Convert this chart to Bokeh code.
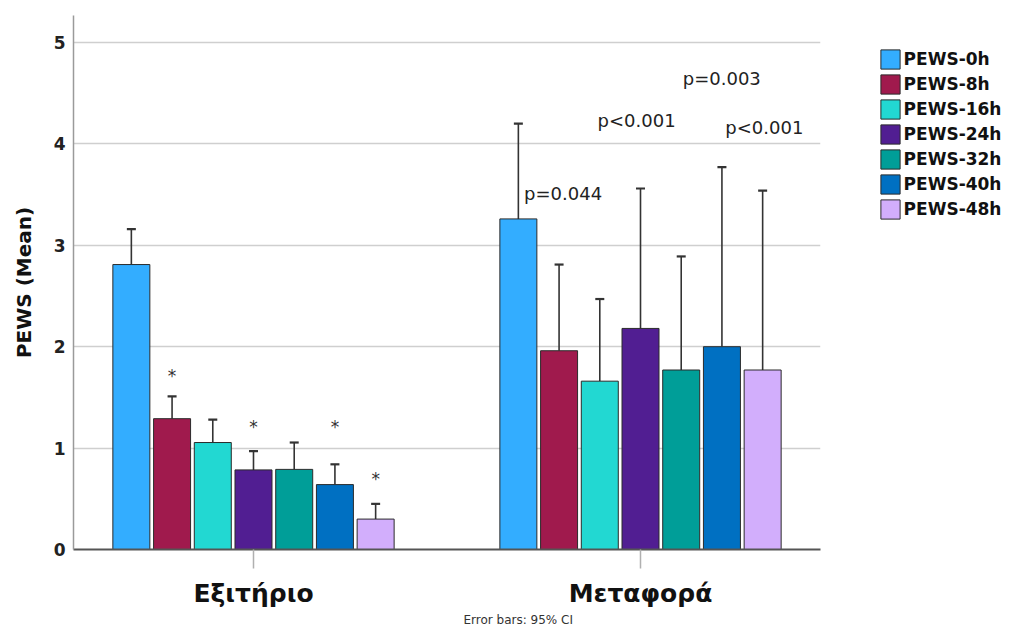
from bokeh.plotting import figure
from bokeh.layouts import row
from bokeh.models import (ColumnDataSource, FixedTicker, Range1d, Legend, LegendItem,
                          Title, Whisker, TeeHead)
from bokeh.core.properties import value
from bokeh.embed import file_html
from bokeh.resources import INLINE

# ---------------- data ----------------
groups = ["Εξιτήριο", "Μεταφορά"]
series = ["PEWS-0h", "PEWS-8h", "PEWS-16h", "PEWS-24h", "PEWS-32h", "PEWS-40h", "PEWS-48h"]
colors = ["#33ADFF", "#A01A4D", "#22D8D2", "#511E92", "#009E98", "#0070C2", "#D2AEFC"]

mean_exit = [2.81, 1.29, 1.055, 0.785, 0.79, 0.64, 0.30]
ci_upper_exit = [3.16, 1.51, 1.28, 0.97, 1.055, 0.84, 0.45]
mean_transfer = [3.26, 1.96, 1.66, 2.18, 1.77, 2.00, 1.77]
ci_upper_transfer = [4.20, 2.81, 2.47, 3.56, 2.89, 3.77, 3.54]

star_series = ["PEWS-8h", "PEWS-24h", "PEWS-40h", "PEWS-48h"]
star_y = [1.75, 1.25, 1.25, 0.73]

p_labels = ["p=0.044", "p<0.001", "p=0.003", "p<0.001"]
p_x = [1.80, 1.99, 2.21, 2.32]
p_y = [3.51, 4.23, 4.645, 4.16]

y_ticks = [0, 1, 2, 3, 4, 5]
note = "Error bars: 95% CI"

# ---------------- layout ----------------
group_pos = [1, 2]
step = 0.1052
bar_w = 0.0956
FIG_H = 627

p = figure(width=860, height=FIG_H, output_backend="svg", toolbar_location=None,
           x_range=Range1d(0.5349, 2.4651), y_range=Range1d(0, 5.266),
           min_border_left=73, min_border_right=40, min_border_top=15, min_border_bottom=78,
           background_fill_color="white", border_fill_color="white")
p.outline_line_color = None

for i, s in enumerate(series):
    src = ColumnDataSource(dict(
        x=[g + (i - 3) * step for g in group_pos],
        top=[mean_exit[i], mean_transfer[i]],
        upper=[ci_upper_exit[i], ci_upper_transfer[i]],
    ))
    p.vbar(x="x", top="top", bottom=0, width=bar_w, source=src,
           fill_color=colors[i], line_color="#2b2b2b", line_width=1)
    w = Whisker(base="x", upper="upper", lower="top", source=src,
                line_color="#333333", line_width=1.6,
                upper_head=TeeHead(size=9, line_width=2.2, line_color="#333333"),
                lower_head=None)
    p.add_layout(w)

# stars
star_x = [group_pos[0] + (series.index(s) - 3) * step for s in star_series]
p.text(x=star_x, y=star_y, text=["*"] * len(star_x), text_align="center",
       text_baseline="middle", y_offset=4, text_font=value("DejaVu Sans"),
       text_font_size="17px", text_color="#333333")

# p-values
p.text(x=p_x, y=p_y, text=p_labels, text_align="center", text_baseline="middle",
       text_font=value("DejaVu Sans"), text_font_size="18px", text_color="#222222")

# axes
p.xgrid.grid_line_color = None
p.ygrid.grid_line_color = "#cfcfcf"
p.ygrid.grid_line_width = 1.5
p.yaxis.ticker = FixedTicker(ticks=y_ticks)
p.yaxis.axis_line_color = "#9a9a9a"
p.yaxis.axis_line_width = 1.5
p.yaxis.major_tick_out = 0
p.yaxis.major_tick_in = 0
p.yaxis.minor_tick_out = 0
p.yaxis.minor_tick_in = 0
p.yaxis.major_label_standoff = 8
p.yaxis.major_label_text_font = "DejaVu Sans"
p.yaxis.major_label_text_font_style = "bold"
p.yaxis.major_label_text_font_size = "17px"
p.yaxis.major_label_text_color = "#222222"
p.yaxis.axis_label = "PEWS (Mean)"
p.yaxis.axis_label_text_font = "DejaVu Sans"
p.yaxis.axis_label_text_font_style = "bold"
p.yaxis.axis_label_text_font_size = "20px"
p.yaxis.axis_label_text_color = "#111111"
p.yaxis.axis_label_standoff = 15

p.xaxis.ticker = FixedTicker(ticks=group_pos)
p.xaxis.major_label_overrides = {g: lab for g, lab in zip(group_pos, groups)}
p.xaxis.axis_line_color = "#555555"
p.xaxis.axis_line_width = 2
p.xaxis.major_tick_out = 19
p.xaxis.major_tick_in = 0
p.xaxis.major_tick_line_color = "#b0b0b0"
p.xaxis.major_tick_line_width = 1.5
p.xaxis.minor_tick_out = 0
p.xaxis.minor_tick_in = 0
p.xaxis.major_label_standoff = 10
p.xaxis.major_label_text_font = "DejaVu Sans"
p.xaxis.major_label_text_font_style = "bold"
p.xaxis.major_label_text_font_size = "25px"
p.xaxis.major_label_text_color = "#111111"

title = Title(text=note, align="left", offset=390, text_font="DejaVu Sans",
              text_font_size="12px", text_font_style="normal", text_color="#333333",
              standoff=0)
p.add_layout(title, "below")

# ---------------- legend panel ----------------
q = figure(width=142, height=FIG_H, output_backend="svg", toolbar_location=None,
           x_range=Range1d(0, 1), y_range=Range1d(0, 1),
           x_axis_location=None, y_axis_location=None,
           min_border_left=0, min_border_right=0, min_border_top=0, min_border_bottom=0,
           background_fill_color="white", border_fill_color="white")
q.outline_line_color = None
q.xgrid.grid_line_color = None
q.ygrid.grid_line_color = None

items = []
for i, s in enumerate(series):
    r = q.vbar(x=[float("nan")], top=[float("nan")], bottom=[float("nan")], width=0.1,
               fill_color=colors[i], line_color="#2b2b2b", line_width=1)
    items.append(LegendItem(label=s, renderers=[r]))

legend = Legend(items=items, location=(17.6, 327.9), orientation="vertical",
                glyph_width=24, glyph_height=24, label_height=24, label_standoff=2,
                spacing=1, padding=0, margin=0, border_line_color=None,
                background_fill_alpha=0,
                label_text_font="DejaVu Sans", label_text_font_style="bold",
                label_text_font_size="17px", label_text_color="#111111")
q.add_layout(legend)

layout = row(p, q, spacing=0)
open("out.html", "w").write(file_html(layout, INLINE))
